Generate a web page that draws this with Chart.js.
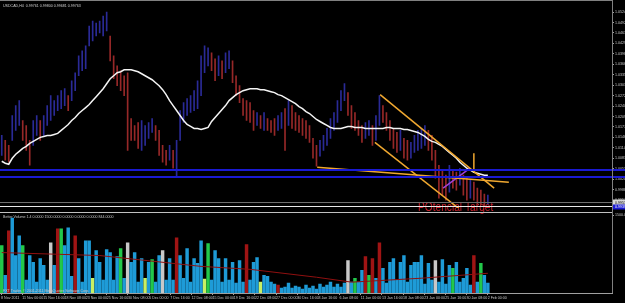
<!DOCTYPE html>
<html>
<head>
<meta charset="utf-8">
<title>USDCAD,H4</title>
<script src="https://cdn.jsdelivr.net/npm/chart.js@4.4.1/dist/chart.umd.min.js"></script>
<style>
  html, body { margin: 0; padding: 0; background: #000; overflow: hidden; }
  #wrap { position: relative; width: 625px; height: 303px; }
  #priceChart { position: absolute; left: 0; top: 0; }
  #volChart { position: absolute; left: 0; top: 212px; }
</style>
</head>
<body>
<div id="wrap">
  <canvas id="priceChart" width="625" height="216"></canvas>
  <canvas id="volChart" width="625" height="91"></canvas>
</div>
<script>
// price bars (H4, compressed)
const barHigh = [
  1.0152, 1.0137, 1.0122, 1.0212, 1.0242, 1.0257, 1.0197, 1.0182, 1.0137, 1.0197,
  1.0212, 1.0197, 1.0212, 1.0242, 1.0272, 1.0257, 1.0272, 1.0287, 1.0293, 1.0272,
  1.0317, 1.0341, 1.0392, 1.0407, 1.0422, 1.0482, 1.0497, 1.0491, 1.0497, 1.0512,
  1.0524, 1.0452, 1.0392, 1.0362, 1.0347, 1.0332, 1.0341, 1.0203, 1.0182, 1.0191,
  1.0197, 1.0182, 1.0191, 1.0203, 1.0182, 1.0167, 1.0122, 1.0107, 1.0122, 1.0107,
  1.0137, 1.0227, 1.0251, 1.0263, 1.0272, 1.0287, 1.0317, 1.0392, 1.0422, 1.0416,
  1.0401, 1.0383, 1.0392, 1.0377, 1.0401, 1.0407, 1.0377, 1.0332, 1.0302, 1.0263,
  1.0257, 1.0251, 1.0227, 1.0221, 1.0212, 1.0221, 1.0203, 1.0197, 1.0203, 1.0212,
  1.0221, 1.0233, 1.0257, 1.0242, 1.0221, 1.0212, 1.0203, 1.0197, 1.0182, 1.0143,
  1.0122, 1.0137, 1.0152, 1.0173, 1.0203, 1.0221, 1.0257, 1.0287, 1.0308, 1.0281,
  1.0242, 1.0221, 1.0197, 1.0182, 1.0191, 1.0197, 1.0182, 1.0212, 1.0272, 1.0242,
  1.0221, 1.0197, 1.0173, 1.0161, 1.0167, 1.0143, 1.0137, 1.0131, 1.0152, 1.0167,
  1.0173, 1.0182, 1.0167, 1.0152, 1.0107, 1.0062, 1.0047, 1.0032, 1.0062, 1.0047,
  1.0041, 1.0053, 1.0032, 1.0023, 1.0017, 1.0011, 0.9993, 0.9987, 0.9975, 0.9972
];
const barLow = [
  1.0092, 1.0077, 1.0071, 1.0137, 1.0167, 1.0182, 1.0137, 1.0107, 1.0062, 1.0122,
  1.0152, 1.0137, 1.0152, 1.0182, 1.0197, 1.0212, 1.0227, 1.0233, 1.0242, 1.0227,
  1.0257, 1.0287, 1.0332, 1.0347, 1.0353, 1.0422, 1.0437, 1.0452, 1.0461, 1.0452,
  1.0467, 1.0377, 1.0323, 1.0302, 1.0287, 1.0272, 1.0107, 1.0137, 1.0137, 1.0113,
  1.0107, 1.0122, 1.0143, 1.0161, 1.0137, 1.0092, 1.0071, 1.0062, 1.0077, 1.0053,
  1.0029, 1.0137, 1.0191, 1.0212, 1.0221, 1.0227, 1.0233, 1.0272, 1.0341, 1.0362,
  1.0347, 1.0317, 1.0332, 1.0323, 1.0341, 1.0353, 1.0311, 1.0272, 1.0251, 1.0212,
  1.0197, 1.0191, 1.0167, 1.0182, 1.0173, 1.0167, 1.0167, 1.0161, 1.0152, 1.0167,
  1.0173, 1.0107, 1.0182, 1.0173, 1.0167, 1.0161, 1.0152, 1.0143, 1.0131, 1.0083,
  1.0059, 1.0089, 1.0107, 1.0122, 1.0143, 1.0167, 1.0191, 1.0227, 1.0257, 1.0212,
  1.0173, 1.0167, 1.0152, 1.0131, 1.0143, 1.0152, 1.0122, 1.0137, 1.0182, 1.0191,
  1.0167, 1.0137, 1.0113, 1.0101, 1.0107, 1.0083, 1.0077, 1.0083, 1.0101, 1.0107,
  1.0113, 1.0122, 1.0107, 1.0077, 1.0023, 0.9963, 0.9972, 0.9957, 0.9981, 0.9993,
  0.9987, 1.0002, 0.9972, 0.9957, 0.9963, 0.9957, 0.9945, 0.9942, 0.9939, 0.9945
];
// white moving average
const maValues = [
  1.0074, 1.0068, 1.0065, 1.0083, 1.0095, 1.0104, 1.0113, 1.0119, 1.0128, 1.0134,
  1.0140, 1.0146, 1.0149, 1.0152, 1.0152, 1.0155, 1.0158, 1.0167, 1.0176, 1.0185,
  1.0197, 1.0206, 1.0218, 1.0227, 1.0236, 1.0245, 1.0257, 1.0269, 1.0281, 1.0293,
  1.0308, 1.0323, 1.0332, 1.0341, 1.0344, 1.0350, 1.0350, 1.0350, 1.0347, 1.0344,
  1.0338, 1.0332, 1.0326, 1.0320, 1.0311, 1.0302, 1.0290, 1.0275, 1.0257, 1.0242,
  1.0227, 1.0212, 1.0197, 1.0185, 1.0179, 1.0173, 1.0173, 1.0170, 1.0173, 1.0176,
  1.0194, 1.0206, 1.0218, 1.0230, 1.0242, 1.0257, 1.0266, 1.0275, 1.0281, 1.0287,
  1.0290, 1.0293, 1.0293, 1.0293, 1.0290, 1.0290, 1.0287, 1.0284, 1.0281, 1.0275,
  1.0272, 1.0266, 1.0260, 1.0254, 1.0248, 1.0239, 1.0233, 1.0224, 1.0218, 1.0209,
  1.0200, 1.0194, 1.0188, 1.0182, 1.0176, 1.0173, 1.0173, 1.0173, 1.0176, 1.0179,
  1.0179, 1.0176, 1.0176, 1.0176, 1.0173, 1.0173, 1.0173, 1.0173, 1.0173, 1.0173,
  1.0176, 1.0176, 1.0173, 1.0173, 1.0173, 1.0170, 1.0170, 1.0167, 1.0164, 1.0161,
  1.0155, 1.0149, 1.0140, 1.0134, 1.0131, 1.0125, 1.0119, 1.0110, 1.0101, 1.0092,
  1.0083, 1.0071, 1.0062, 1.0053, 1.0047, 1.0041, 1.0038, 1.0035, 1.0032, 1.0032
];
// Better Volume
const volumes = [
  912, 342, 1197, 1444, 722, 1102, 912, 247, 722, 589,
  209, 665, 532, 247, 969, 532, 1235, 1235, 912, 1254,
  323, 1102, 665, 209, 1007, 1007, 285, 817, 589, 247,
  836, 779, 247, 703, 855, 285, 969, 589, 779, 209,
  665, 285, 589, 646, 209, 722, 817, 247, 665, 247,
  1064, 722, 285, 855, 209, 665, 570, 1007, 266, 950,
  247, 817, 665, 209, 665, 247, 589, 190, 627, 209,
  931, 247, 589, 684, 209, 342, 323, 209, 171, 152,
  95, 114, 190, 95, 133, 114, 76, 152, 95, 133,
  76, 171, 114, 152, 209, 114, 171, 114, 190, 627,
  209, 285, 209, 437, 703, 342, 665, 285, 969, 475,
  190, 589, 665, 247, 589, 722, 209, 532, 589, 589,
  722, 171, 570, 247, 627, 209, 646, 171, 532, 475,
  589, 209, 285, 475, 152, 722, 209, 570, 342, 190
];
// B normal, R climax, G churn, W climax low, Y low volume
const volKind = (
  "GBRBBBGBBB" + "BBBBWBRGBB" + "BRBBBBYBBB" + "BBBBGBWBBB" + "BYBGBBWBBB" +
  "RBBBBBBBYG" + "BBBBBBBBBB" + "RBBBYBBBBR" + "BBBBBBBBBB" + "BBBBBBBBBW" +
  "BGBBRGRBRB" + "BBBBBBBBBB" + "BBBBWBBBBG" + "BBBBBRBGBB"
).split("");
const volAvgIdx = [0, 28, 57, 71, 90, 100, 120, 139];
const volAvgVal = [779, 722, 513, 456, 304, 209, 285, 380];

// drawn objects
const trendFlat = [{ x: 90.2, y: 1.0056 }, { x: 145.0, y: 1.0011 }];
const trendUpper = [{ x: 108.2, y: 1.0275 }, { x: 140.8, y: 0.9993 }];
const trendLower = [{ x: 106.7, y: 1.0131 }, { x: 131.6, y: 0.9924 }];
const trendMark = [{ x: 135.0, y: 1.0098 }, { x: 135.0, y: 1.0050 }];
const trendPurple = [{ x: 126.2, y: 0.9993 }, { x: 133.9, y: 1.0053 }];
const blueLevels = [1.0047, 1.0026];
const bidLevel = 0.9951;
const targetLevel = 0.9939;
const targetLabelAt = 119;

const yTicks = [1.05240, 1.04925, 1.04610, 1.04295, 1.03980, 1.03665, 1.03350, 1.03035, 1.02720,
  1.02405, 1.02090, 1.01775, 1.01460, 1.01145, 1.00830, 1.00515, 1.00200, 0.99885, 0.99570];
const xLabels = ["8 Nov 2011", "11 Nov 00:00", "15 Nov 16:00", "18 Nov 08:00", "23 Nov 00:00",
  "25 Nov 16:00", "30 Nov 08:00", "5 Dec 00:00", "7 Dec 16:00", "12 Dec 08:00", "15 Dec 00:00",
  "19 Dec 16:00", "22 Dec 08:00", "27 Dec 00:00", "30 Dec 16:00", "3 Jan 16:00", "6 Jan 08:00",
  "11 Jan 00:00", "13 Jan 16:00", "18 Jan 08:00", "23 Jan 00:00", "25 Jan 16:00", "30 Jan 08:00",
  "2 Feb 00:00"];

const FONT = "'Liberation Sans', Arial, sans-serif";
const SMALL = 3.6;
Chart.defaults.font.family = FONT;
Chart.defaults.color = "#c8c8c8";

const SLOTS_MAX = 174.5;   // bars + empty shift area on the right
const AXIS_W = 13;

const candleColors = barHigh.map((h, i) => {
  if (i === 0) return "#2a2a96";
  const mid = (h + barLow[i]) / 2, prev = (barHigh[i - 1] + barLow[i - 1]) / 2;
  return mid < prev ? "#962828" : "#2a2a96";
});

const kindColor = { B: "#1e9bd7", R: "#a01414", G: "#22c84a", W: "#c8c8c8", Y: "#c8f064" };

function lineSet(points, color, width, order) {
  return { type: "line", data: points, borderColor: color, borderWidth: width,
    pointRadius: 0, tension: 0, order: order };
}

const priceDecor = {
  id: "priceDecor",
  beforeDatasetsDraw(chart) {
    const { ctx, scales: { x, y } } = chart;
    ctx.save();
    ctx.fillStyle = "#c8202a";
    ctx.font = "12px " + FONT;
    ctx.textBaseline = "alphabetic";
    ctx.translate(x.getPixelForValue(targetLabelAt), y.getPixelForValue(targetLevel) + 5);
    ctx.scale(0.85, 1);
    ctx.fillText("POtencial Target", 0, 0);
    ctx.restore();
  },
  afterDatasetsDraw(chart) {
    const { ctx, chartArea: a, scales: { y } } = chart;
    ctx.save();
    blueLevels.forEach(v => {
      const py = Math.round(y.getPixelForValue(v));
      ctx.strokeStyle = "#1a1ad2"; ctx.lineWidth = 2;
      ctx.beginPath(); ctx.moveTo(0, py); ctx.lineTo(chart.width, py); ctx.stroke();
    });
    const by = Math.round(y.getPixelForValue(bidLevel)) + 0.5;
    ctx.strokeStyle = "#6e6e6e"; ctx.lineWidth = 1;
    ctx.beginPath(); ctx.moveTo(0, by); ctx.lineTo(a.right, by); ctx.stroke();
    const ty = Math.round(y.getPixelForValue(targetLevel)) + 0.5;
    ctx.strokeStyle = "#e8e8e8";
    ctx.beginPath(); ctx.moveTo(0, ty); ctx.lineTo(a.right, ty); ctx.stroke();
    // axis boxes
    ctx.font = SMALL + "px " + FONT;
    ctx.textBaseline = "middle";
    ctx.fillStyle = "#d8d8d8"; ctx.fillRect(a.right + 1, by - 3, AXIS_W, 6);
    ctx.fillStyle = "#000"; ctx.fillText(bidLevel.toFixed(5), a.right + 3, by);
    ctx.fillStyle = "#1a1ad2"; ctx.fillRect(a.right + 1, ty - 2, AXIS_W, 5);
    ctx.fillStyle = "#fff"; ctx.fillText(targetLevel.toFixed(5), a.right + 3, ty + 0.5);
    // frame and title
    ctx.strokeStyle = "#808080";
    ctx.beginPath(); ctx.moveTo(0, 0.5); ctx.lineTo(a.right, 0.5); ctx.stroke();
    ctx.beginPath(); ctx.moveTo(a.right + 0.5, 0); ctx.lineTo(a.right + 0.5, chart.height); ctx.stroke();
    ctx.fillStyle = "#d0d0d0";
    ctx.fillText("USDCAD,H4  0.99761 0.99800 0.99681 0.99763", 3, 6);
    ctx.restore();
  }
};

const volDecor = {
  id: "volDecor",
  afterDatasetsDraw(chart) {
    const { ctx, chartArea: a } = chart;
    ctx.save();
    ctx.strokeStyle = "#c0c0c0"; ctx.lineWidth = 1;
    ctx.beginPath(); ctx.moveTo(0, 0.5); ctx.lineTo(a.right, 0.5); ctx.stroke();
    ctx.strokeStyle = "#808080";
    ctx.beginPath(); ctx.moveTo(a.right + 0.5, 0); ctx.lineTo(a.right + 0.5, a.bottom); ctx.stroke();
    ctx.font = SMALL + "px " + FONT;
    ctx.textBaseline = "middle";
    ctx.fillStyle = "#c8c8c8";
    ctx.fillText("Better Volume 1.4 0.0000 1500.0000 0.0000 0.0000 0.0000 844.0000", 3, 5);
    ctx.fillText("FXT Trader, \u00a9 2001-2011 MetaQuotes Software Corp.", 3, a.bottom - 2);
    ctx.restore();
  }
};

new Chart(document.getElementById("priceChart"), {
  type: "bar",
  data: {
    datasets: [
      lineSet(trendFlat, "#f0a830", 1.5, 1),
      lineSet(trendUpper, "#f0a830", 1.5, 1),
      lineSet(trendLower, "#f0a830", 1.5, 1),
      lineSet(trendMark, "#f0a830", 1.5, 1),
      lineSet(trendPurple, "#a040d8", 1.5, 1),
      lineSet(maValues.map((v, i) => ({ x: i, y: v })), "#f4f4f4", 1.5, 2),
      {
        type: "bar",
        data: barHigh.map((h, i) => ({ x: i, y: [barLow[i], h] })),
        backgroundColor: candleColors,
        barThickness: 1,
        order: 3
      }
    ]
  },
  options: {
    responsive: false,
    animation: false,
    devicePixelRatio: 1,
    layout: { padding: { top: 2, bottom: 8, left: 0, right: 0 } },
    plugins: { legend: { display: false }, tooltip: { enabled: false } },
    scales: {
      x: { type: "linear", min: -0.5, max: SLOTS_MAX, offset: false, display: false,
        grid: { offset: false } },
      y: {
        position: "right", min: 0.9933, max: 1.0551, beginAtZero: false,
        afterBuildTicks: s => { s.ticks = yTicks.map(v => ({ value: v })); },
        afterFit: s => { s.width = AXIS_W; },
        grid: { drawOnChartArea: false, drawTicks: true, tickLength: 2, color: "#a0a0a0" },
        border: { display: true, color: "#a0a0a0" },
        ticks: { padding: 1, font: { size: SMALL }, color: "#c8c8c8", callback: v => v.toFixed(5) }
      }
    }
  },
  plugins: [priceDecor]
});

new Chart(document.getElementById("volChart"), {
  type: "bar",
  data: {
    datasets: [
      lineSet(volAvgIdx.map((v, k) => ({ x: v, y: volAvgVal[k] })), "#901010", 1, 1),
      {
        type: "bar",
        data: volumes.map((v, i) => ({ x: i, y: v })),
        backgroundColor: volKind.map(k => kindColor[k]),
        barThickness: 2.8,
        order: 2
      }
    ]
  },
  options: {
    responsive: false,
    animation: false,
    devicePixelRatio: 1,
    layout: { padding: { top: 2, bottom: 0, left: 0, right: 0 } },
    plugins: { legend: { display: false }, tooltip: { enabled: false } },
    scales: {
      x: {
        type: "linear", min: -0.5, max: SLOTS_MAX, offset: false,
        afterBuildTicks: s => { s.ticks = xLabels.map((l, k) => ({ value: k * 6.05 - 0.2 })); },
        afterFit: s => { s.height = 10; },
        grid: { drawOnChartArea: false, drawTicks: true, tickLength: 2, color: "#a0a0a0", offset: false },
        border: { display: true, color: "#a0a0a0" },
        ticks: { autoSkip: false, maxRotation: 0, align: "start", padding: 1,
          font: { size: SMALL }, color: "#c8c8c8", callback: (v, k) => xLabels[k] }
      },
      y: {
        position: "right", min: 0, max: 1500,
        afterBuildTicks: s => { s.ticks = [{ value: 1500 }]; },
        afterFit: s => { s.width = AXIS_W; },
        grid: { drawOnChartArea: false, drawTicks: true, tickLength: 2, color: "#a0a0a0" },
        border: { display: true, color: "#a0a0a0" },
        ticks: { padding: 1, font: { size: SMALL }, color: "#c8c8c8", callback: v => v.toFixed(1) }
      }
    }
  },
  plugins: [volDecor]
});
</script>
</body>
</html>
